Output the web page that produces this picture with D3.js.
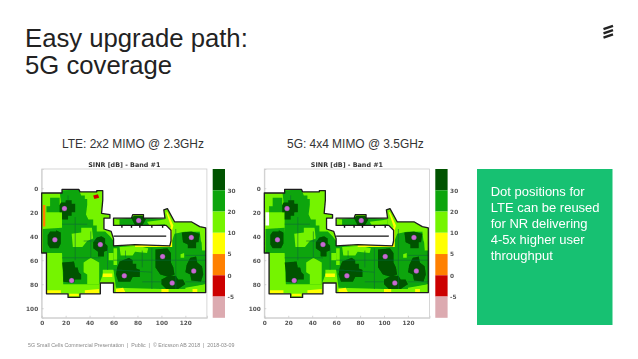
<!DOCTYPE html>
<html>
<head>
<meta charset="utf-8">
<script src="https://cdn.jsdelivr.net/npm/d3@7"></script>
<style>
  html, body { margin: 0; padding: 0; background: #fff; }
  svg { display: block; font-family: "Liberation Sans", Arial, sans-serif; }
  .axis text { font-family: "DejaVu Sans", sans-serif; font-weight: bold; font-size: 5.8px; fill: #555; }
  .axis line { stroke: #bbb; stroke-width: .6; }
  .axis path { stroke: #ccc; stroke-width: .8; }
</style>
</head>
<body>
<script>
var slideTitle = ['Easy upgrade path:', '5G coverage'];
var mapLabels = ['LTE: 2x2 MIMO @ 2.3GHz', '5G: 4x4 MIMO @ 3.5GHz'];
var mapTitle = 'SINR [dB] - Band #1';
var boxLines = ['Dot positions for', 'LTE can be reused', 'for NR delivering', '4-5x higher user', 'throughput'];
var footer = '5G Small Cells Commercial Presentation  |  Public  |  © Ericsson AB 2018  |  2018-03-09';

var xTicks = [0, 20, 40, 60, 80, 100, 120];
var yTicks = [0, 20, 40, 60, 80, 100];
var barEdges = ['40', '30', '20', '10', '5', '0', '-5', '-10'];
var barTicks = ['30', '20', '10', '5', '0', '-5'];
var barColors = ['#005200', '#0aa50a', '#74f400', '#ffff00', '#ff8000', '#cc0000', '#dcaab0'];

// dot positions, same for both maps
var dots = [[19,17],[11,43],[49,47],[25,77],[69,73],[81,27],[101,57],[109,79],[125,41],[127,69]];

// floor plan outline
var outline = [[0,4],[17,4],[17,1],[31,1],[32,3],[46,3],[46,2],[51,2],[51,10],[50,21],[57,22],[57,25],[52,25],[52,34],[58,36],[60,42],[60,48],[78,47],[107,48],[108,44],[108,35],[104,31],[60,31],[60,25],[75,25],[76,22],[85,22],[85,25],[103,25],[102,18],[105,17],[111,28],[125,28],[132,32],[137,33],[137,87],[60,87],[60,79],[49,79],[49,88],[32,88],[32,91],[22,91],[22,88],[4,88],[4,54],[0,54]];

// band index matches barColors
var midZones = [
  [[15,2],[31,1],[33,6],[36,6],[36,9],[38,9],[38,14],[37,22],[39,26],[43,26],[43,31],[46,31],[46,36],[53,36],[57,40],[60,44],[60,48],[107,49],[111,38],[120,36],[132,36],[133,44],[137,50],[137,80],[120,84],[100,84],[62,83],[60,68],[51,68],[51,72],[48,80],[18,80],[17,54],[17,20]],
  [[1,34],[17,33],[18,54],[1,54]],
  [[7,8],[15,8],[15,14],[17,15],[17,20],[4,20],[4,15],[7,15]],
  [[62,26],[76,24],[86,24],[103,26],[103,31],[62,31]]
];
var lightZones = [
  [[25,38],[33,37],[33,33],[42,33],[43,42],[38,44],[34,49],[26,49]],
  [[35,62],[41,58],[48,62],[48,80],[38,80],[38,72],[35,70]],
  [[65,49],[80,48],[89,50],[88,54],[78,53],[76,56],[66,56]],
  [[112,31],[125,29],[132,33],[132,36],[118,36],[113,37]],
  [[133,37],[137,37],[137,52],[134,52]],
  [[116,55],[119,54],[119,58],[116,58]],
  [[62,84],[100,84],[100,87],[62,87]],
  [[120,83],[137,80],[137,87],[120,87]],
  [[51,72],[60,72],[60,79],[51,79]],
  [[60,26],[65,26],[65,31],[60,31]],
  [[88,28],[103,26],[103,30],[90,31]],
  [[60,50],[63,50],[63,64],[60,64]],
  [[56,54],[60,54],[60,60],[56,60]]
];
var yellowZones = [
  [[104,20],[105,20],[110,31],[109,35],[109,49],[107,49],[107,35],[108,32]],
  [[78,47],[108,47],[108,49],[78,49]],
  [[51,71],[59,71],[59,74],[51,74]],
  [[4,85],[16,85],[16,88],[4,88]],
  [[36,85],[48,84],[48,88],[36,88]],
  [[62,84],[68,83],[70,87],[62,87]],
  [[100,84],[106,84],[106,87],[100,87]],
  [[126,84],[130,84],[130,87],[126,87]],
  [[23,88],[31,88],[31,90],[23,90]]
];
var darkZones = [
  [[16,12],[20,12],[20,10],[25,10],[25,13],[28,13],[28,20],[25,20],[25,23],[22,23],[22,26],[17,26],[17,20],[15,20],[15,14]],
  [[7,36],[12,36],[12,35],[16,37],[16,46],[14,50],[7,50],[5,47],[5,39]],
  [[46,41],[50,40],[53,42],[53,46],[55,48],[55,52],[52,53],[52,57],[47,57],[47,53],[43,50],[43,45]],
  [[17,62],[27,61],[28,66],[30,66],[31,70],[33,72],[33,76],[28,76],[27,79],[18,78],[18,70]],
  [[65,61],[73,58],[76,60],[76,63],[79,63],[79,67],[82,68],[82,74],[76,74],[74,78],[64,78],[62,72],[63,66]],
  [[75,25],[77,23],[84,23],[87,26],[84,31],[78,31]],
  [[95,51],[105,50],[108,54],[108,62],[110,66],[111,72],[106,74],[99,72],[95,66]],
  [[100,76],[106,73],[112,73],[114,76],[118,76],[120,80],[114,84],[104,84],[100,80]],
  [[117,37],[125,36],[132,38],[131,45],[129,45],[129,50],[122,50],[122,47],[118,45]],
  [[124,58],[129,57],[130,62],[134,65],[135,72],[133,78],[125,77],[124,72],[120,70],[121,64]]
];
var walls = [
  [[17,30],[38,30]],[[28,24],[28,60]],[[17,58],[49,58]],[[41,36],[41,58]],
  [[60,60],[137,60]],[[60,68],[92,70]],[[92,50],[92,84]],[[112,34],[112,84]],
  [[55,50],[55,68]],[[120,56],[137,56]],[[84,78],[100,78]],[[120,78],[137,78]],
  [[22,6],[22,10]],[[35,44],[48,44]],[[70,52],[70,58]],[[84,52],[84,66]]
];
var courtWall = [[60,40],[104,40]];
var courtStubs = [[67,31],[75,31],[82,31],[92,31],[101,31]];
// only on the LTE map
var lteRed = [[43,6],[47,5],[48,8],[44,9]];
var lteOrange = [[1,14],[3,14],[3,32],[1,32]];
// only on the 5G map
var nrWhite = [[1,20],[4,20],[4,31],[1,31]];

var logoBars = [0, 1, 2];

var W = 638, H = 359;
var svg = d3.select('body').append('svg').attr('width', W).attr('height', H);
var defs = svg.append('defs');
defs.append('filter').attr('id', 'soft')
  .attr('x', '-5%').attr('y', '-5%').attr('width', '110%').attr('height', '110%')
  .append('feGaussianBlur').attr('stdDeviation', 0.5);

svg.append('g').selectAll('text').data(slideTitle).join('text')
  .attr('x', 25).attr('y', (d, i) => 47 + i * 27)
  .attr('font-size', 25.7).attr('fill', '#222').text(d => d);

// ericsson mark
var logoY = d3.scalePoint().domain(logoBars).range([27.5, 36]);
svg.append('g').selectAll('line').data(logoBars).join('line')
  .attr('x1', 603.5).attr('x2', 613)
  .attr('y1', d => logoY(d) + 1.6).attr('y2', d => logoY(d) - 1.6)
  .attr('stroke', '#222').attr('stroke-width', 2.5);

function drawMap(left, label, labelX, isLte) {
  var x = d3.scaleLinear().domain([0, 138]).range([left, left + 165.2]);
  var y = d3.scaleLinear().domain([-16, 108]).range([169, 317.8]);
  var line = d3.line().x(d => x(d[0])).y(d => y(d[1]));
  var poly = d => line(d) + 'Z';
  var clipId = 'clip' + Math.round(left);

  svg.append('text').attr('x', labelX).attr('y', 148).attr('font-size', 11.95)
    .attr('fill', '#333').text(label);

  var g = svg.append('g').attr('filter', 'url(#soft)');
  g.append('text').attr('x', x(69)).attr('y', 167).attr('text-anchor', 'middle')
    .attr('font-family', '"DejaVu Sans", sans-serif').attr('font-weight', 'bold')
    .attr('font-size', 6.4).attr('fill', '#333').text(mapTitle);

  var xAxis = d3.axisBottom(x).tickValues(xTicks).tickSize(-2).tickPadding(3.5);
  var yAxis = d3.axisLeft(y).tickValues(yTicks).tickSize(-2).tickPadding(3.5);
  g.append('g').attr('class', 'axis').attr('transform', 'translate(0,317.8)').call(xAxis);
  g.append('g').attr('class', 'axis').attr('transform', 'translate(' + left + ',0)').call(yAxis);
  g.append('rect').attr('x', x(0)).attr('y', y(-16)).attr('width', x(138) - x(0)).attr('height', y(108) - y(-16))
    .attr('fill', 'none').attr('stroke', '#ccc').attr('stroke-width', .8);

  defs.append('clipPath').attr('id', clipId).append('path').attr('d', poly(outline));

  var plan = g.append('g').attr('clip-path', 'url(#' + clipId + ')');
  plan.append('path').attr('d', poly(outline)).attr('fill', barColors[2]);
  var layer = (zones, col) => plan.append('g').selectAll('path').data(zones).join('path')
    .attr('d', poly).attr('fill', col);
  layer(midZones, barColors[1]);
  layer(lightZones, barColors[2]);
  layer(yellowZones, barColors[3]);
  layer(darkZones, barColors[0]);
  plan.append('g').selectAll('path').data(walls).join('path')
    .attr('d', line).attr('stroke', '#0a6a3a').attr('stroke-width', .6).attr('fill', 'none');
  if (isLte) {
    layer([lteOrange], barColors[4]);
    layer([lteRed], barColors[5]);
  } else {
    layer([nrWhite], '#fff');
  }

  g.append('path').attr('d', poly(outline)).attr('fill', 'none')
    .attr('stroke', '#1a1a1a').attr('stroke-width', 1.3).attr('stroke-linejoin', 'round');
  g.append('path').attr('d', line(courtWall)).attr('stroke', '#111').attr('stroke-width', 1.2).attr('fill', 'none');
  g.append('g').selectAll('path').data(courtStubs).join('path')
    .attr('d', d => line([d, [d[0], d[1] + 2]])).attr('stroke', '#111').attr('stroke-width', 1.4);

  g.append('g').selectAll('circle').data(dots).join('circle')
    .attr('cx', d => x(d[0])).attr('cy', d => y(d[1])).attr('r', 2.5)
    .attr('fill', '#c86ad2').attr('stroke', '#7a3f90').attr('stroke-width', .3);

  // colour bar
  var barX = left + 171;
  var barY = d3.scalePoint().domain(barEdges).range([169, 317.8]);
  g.append('g').selectAll('rect').data(barColors).join('rect')
    .attr('x', barX).attr('width', 12.3)
    .attr('y', (d, i) => barY(barEdges[i]))
    .attr('height', (d, i) => barY(barEdges[i + 1]) - barY(barEdges[i]))
    .attr('fill', d => d);
  var barAxis = d3.axisRight(barY).tickValues(barTicks).tickSize(0).tickPadding(2.5);
  var ba = g.append('g').attr('class', 'axis').attr('transform', 'translate(' + (barX + 12.3) + ',0)').call(barAxis);
  ba.select('.domain').remove();
}

drawMap(41.7, mapLabels[0], 62, true);
drawMap(264.3, mapLabels[1], 287, false);

// green call-out
svg.append('rect').attr('x', 477).attr('y', 169).attr('width', 135.5).attr('height', 156).attr('fill', '#17c172');
svg.append('g').selectAll('text').data(boxLines).join('text')
  .attr('x', 490.7).attr('y', (d, i) => 195.7 + i * 16)
  .attr('font-size', 13).attr('fill', '#fff').text(d => d);

svg.append('text').attr('x', 28).attr('y', 347).attr('font-size', 5.3)
  .attr('fill', '#888').style('white-space', 'pre').text(footer);
</script>
</body>
</html>
